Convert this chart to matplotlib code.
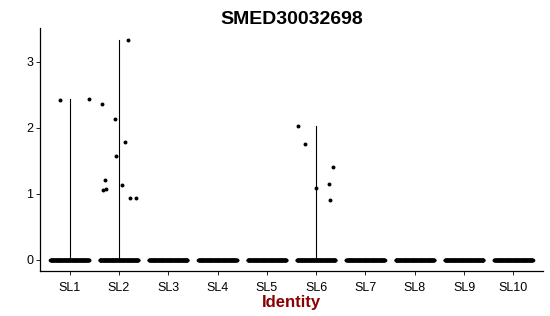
import numpy as np
import matplotlib
matplotlib.use("Agg")
import matplotlib.pyplot as plt

plt.rcParams['font.family'] = ['Liberation Sans', 'DejaVu Sans']

# clusters
idents = ['SL1', 'SL2', 'SL3', 'SL4', 'SL5', 'SL6', 'SL7', 'SL8', 'SL9', 'SL10']

# non-zero expression values, with their jitter offsets
vals = {
    'SL1': [2.42, 2.43],
    'SL2': [2.36, 2.13, 3.33, 1.79, 1.57, 1.21, 1.06, 1.07, 1.13, 0.94, 0.94],
    'SL6': [2.03, 1.75, 1.08, 1.14, 0.91, 1.41],
}
jit = {
    'SL1': [-0.20, 0.39],
    'SL2': [-0.34, -0.08, 0.19, 0.13, -0.05, -0.28, -0.32, -0.26, 0.06, 0.22, 0.35],
    'SL6': [-0.37, -0.22, 0.00, 0.26, 0.28, 0.35],
}

fig = plt.figure(figsize=(5.5, 3.16), dpi=100)
ax = fig.add_axes([40/550, 1-271/316, 503/550, 243/316])

for i, name in enumerate(idents):
    x = i + 1
    # violins collapse to a thin line (almost every cell is 0)
    if name in vals:
        ax.plot([x, x], [0, max(vals[name])], color='black', lw=0.8, zorder=1)
    # band of zero-valued cells
    zx = x + np.linspace(-0.39, 0.39, 150)
    ax.scatter(zx, np.zeros_like(zx), s=7, color='black', lw=0, zorder=2)
    if name in vals:
        ax.scatter(x + np.array(jit[name]), vals[name], s=8, color='black', lw=0, zorder=3)

ax.set_xlim(0.4, 10.6)
ax.set_ylim(-0.17, 3.51)
ax.set_xticks(range(1, 11))
ax.set_xticklabels(idents)
ax.set_yticks([0, 1, 2, 3])
ax.tick_params(axis='both', length=3, width=0.6, labelsize=9, colors='black', pad=2)
ax.tick_params(axis='x', pad=5)
for s in ['top', 'right']:
    ax.spines[s].set_visible(False)
for s in ['left', 'bottom']:
    ax.spines[s].set_linewidth(0.9)

ax.set_xlabel('Identity', fontsize=12, fontweight='bold', color='#8b0000', labelpad=1)
ax.set_title('SMED30032698', fontsize=14, fontweight='bold', pad=3)

fig.savefig('out.png', dpi=100)
